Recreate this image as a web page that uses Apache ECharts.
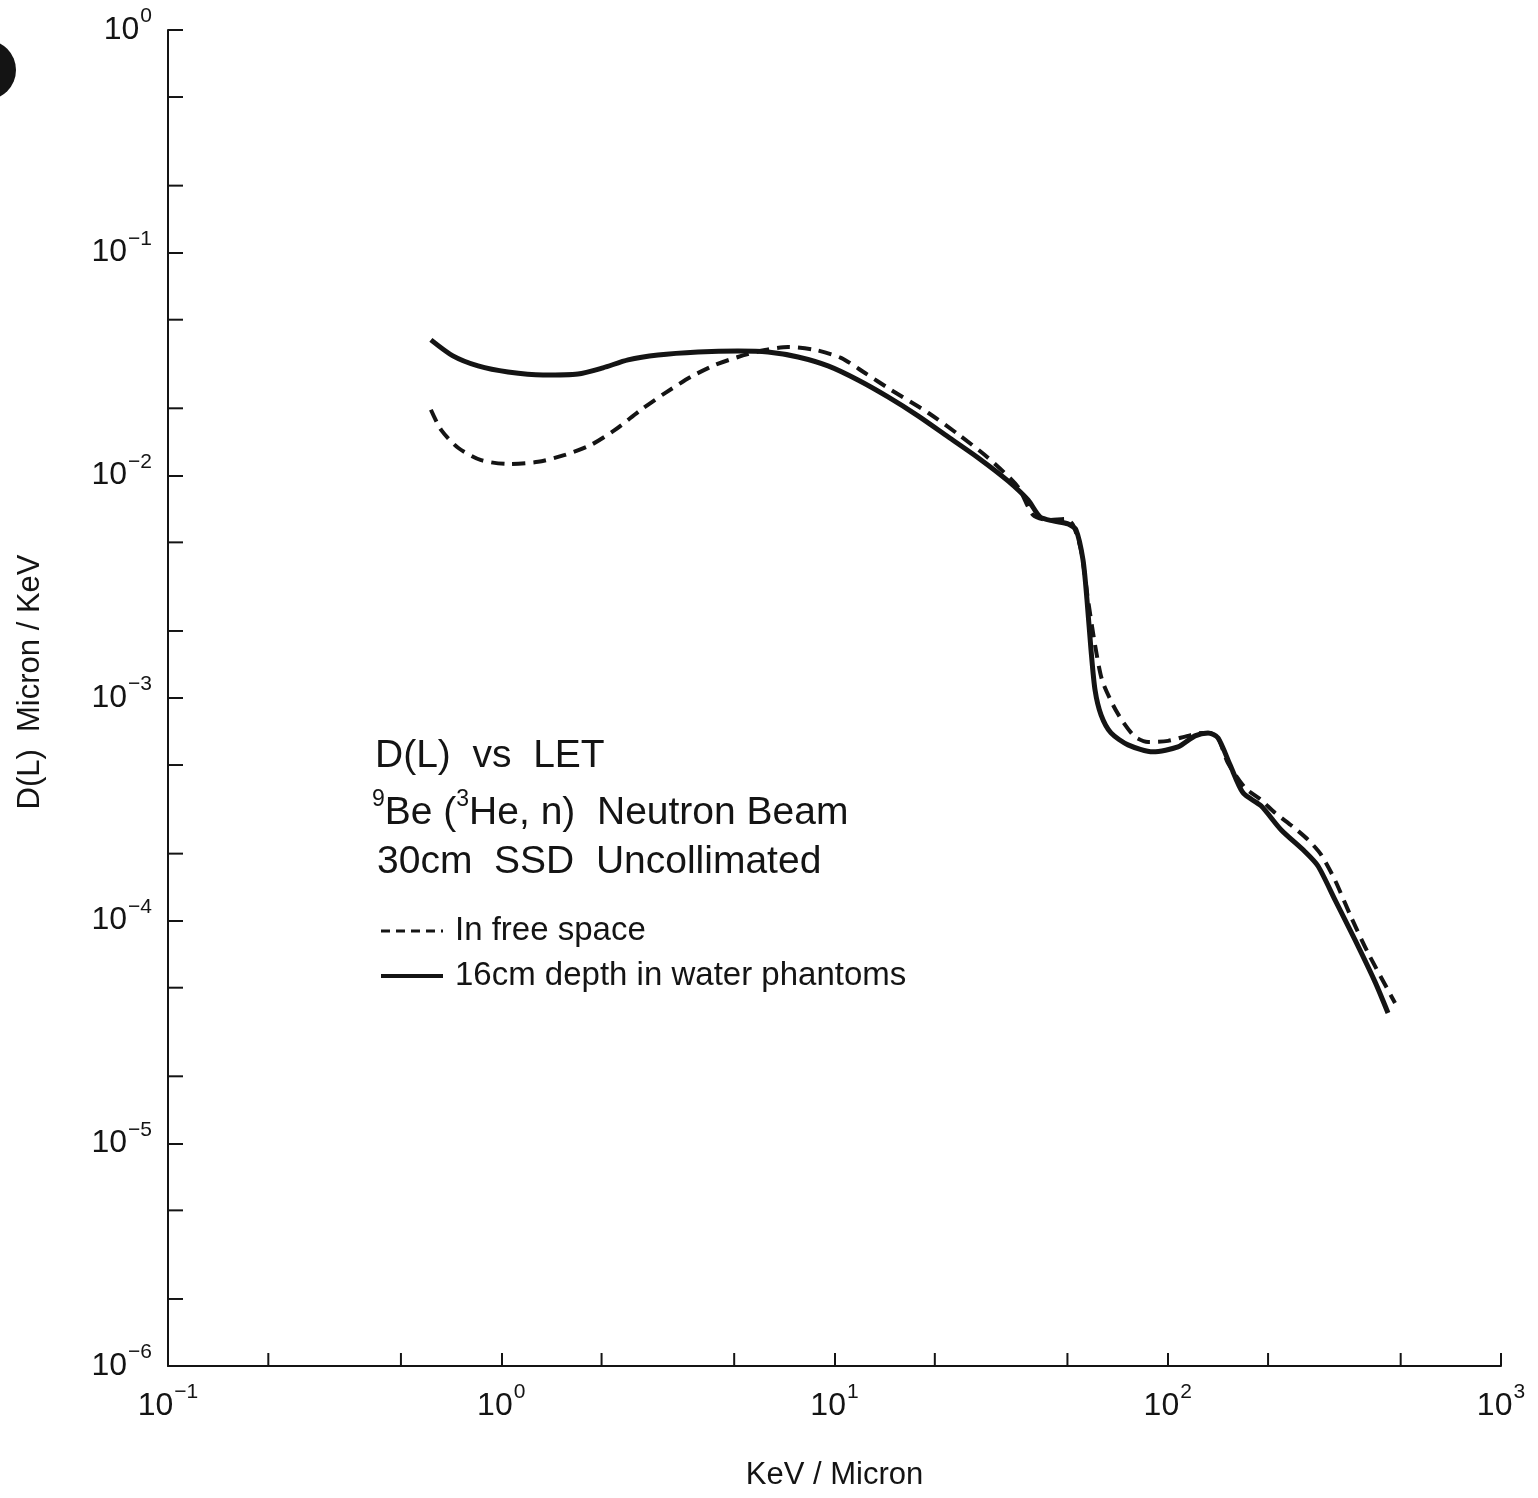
<!DOCTYPE html>
<html>
<head>
<meta charset="utf-8">
<title>D(L) vs LET</title>
<script src="https://cdn.jsdelivr.net/npm/echarts@6/dist/echarts.min.js"></script>
<style>
  html, body { margin: 0; padding: 0; background: #fff; }
  #chart { width: 1538px; height: 1498px; }
</style>
</head>
<body>
<div id="chart"></div>
<script>
// LET spectra, D(L) in micron/keV against LET in keV/micron
const freeSpaceLET = [0.615, 0.660, 0.742, 0.870, 1.048, 1.290, 1.553, 1.859, 2.194, 2.627,
  3.100, 3.710, 4.379, 5.134, 6.186, 7.253, 8.740, 10.46, 12.35, 14.77,
  19.09, 23.48, 28.88, 35.53, 39.41, 43.71, 49.52, 51.96, 54.92, 57.65,
  60.5, 63.5, 68.5, 73.4, 79.8, 87.3, 100.2, 115.0, 127.6, 138.7,
  151.6, 170.6, 190.5, 209.8, 237.6, 263.5, 288.4, 317.6, 354.8, 398.9, 480.9];
const freeSpaceDL = [0.0197, 0.0160, 0.0133, 0.0117, 0.01125, 0.0115, 0.01235, 0.0137, 0.0160, 0.0197,
  0.0234, 0.0277, 0.0313, 0.0340, 0.0366, 0.0377, 0.0366, 0.0337, 0.0288, 0.0242,
  0.0191, 0.0153, 0.0120, 0.00887, 0.00664, 0.00630, 0.00637, 0.00599, 0.00462, 0.002757,
  0.001731, 0.001206, 9.31e-4, 7.81e-4, 6.69e-4, 6.35e-4, 6.42e-4, 6.76e-4, 6.97e-4, 6.90e-4,
  5.11e-4, 3.95e-4, 3.49e-4, 3.05e-4, 2.64e-4, 2.31e-4, 1.98e-4, 1.52e-4, 1.04e-4, 7.17e-5, 4.27e-5];

const phantomLET = [0.615, 0.716, 0.852, 1.048, 1.335, 1.699, 2.020, 2.401, 2.953, 3.894,
  5.134, 6.316, 7.773, 9.561, 11.76, 14.47, 17.81, 21.91, 26.96, 33.16,
  38.08, 41.37, 45.27, 50.2, 53.05, 55.68, 57.24, 58.85, 60.5, 63.06,
  67.55, 75.99, 90.3, 107.3, 120.7, 132.1, 141.5, 153.8, 168.2, 190.5,
  218.7, 258.2, 282.4, 317.6, 364.7, 418.8, 458.1];
const phantomDL = [0.0406, 0.0344, 0.0310, 0.0291, 0.0282, 0.0285, 0.0304, 0.0330, 0.0347, 0.0358,
  0.0362, 0.0358, 0.0340, 0.0310, 0.0268, 0.0225, 0.0185, 0.0149, 0.0120, 0.00944,
  0.00775, 0.00651, 0.00624, 0.00605, 0.00569, 0.00417, 0.002757, 0.001644, 0.001087, 8.40e-4,
  6.97e-4, 6.16e-4, 5.73e-4, 6.03e-4, 6.76e-4, 6.97e-4, 6.62e-4, 5.01e-4, 3.75e-4, 3.28e-4,
  2.56e-4, 2.04e-4, 1.76e-4, 1.24e-4, 8.20e-5, 5.31e-5, 3.85e-5];

// intermediate tick positions (2 and 5 of each decade)
const xMinorTicks = [0.2, 0.5, 2, 5, 20, 50, 200, 500];
const yMinorTicks = [0.5, 0.2, 0.05, 0.02, 0.005, 0.002, 5e-4, 2e-4, 5e-5, 2e-5, 5e-6, 2e-6];

const xRange = [0.1, 1000];
const yRange = [1e-6, 1];

const INK = '#141414';
const FONT = '"Liberation Sans", Arial, sans-serif';

function powerLabel(v) {
  const e = Math.round(Math.log10(v));
  return '{b|10}{s|' + String(e).replace('-', '\u2212') + '}';
}
// a tall line box for the base digits lets the top-aligned exponent sit raised above them
const powerRich = {
  b: { fontSize: 32, fontFamily: FONT, color: INK, lineHeight: 48 },
  s: { fontSize: 21, fontFamily: FONT, color: INK, verticalAlign: 'top', lineHeight: 20, padding: [0, 0, 0, 1] }
};

function pairs(xs, ys) { return xs.map((x, i) => [x, ys[i]]); }

const chart = echarts.init(document.getElementById('chart'), null, { renderer: 'canvas' });

chart.setOption({
  backgroundColor: '#ffffff',
  animation: false,
  grid: { left: 168, right: 37, top: 30, bottom: 132 },
  xAxis: {
    type: 'log', logBase: 10, min: xRange[0], max: xRange[1], splitNumber: 4,
    name: 'KeV / Micron', nameLocation: 'middle', nameGap: 94,
    nameTextStyle: { fontSize: 31, fontFamily: FONT, color: INK },
    axisLine: { show: true, lineStyle: { color: INK, width: 2 } },
    axisTick: { show: true, inside: true, length: 13, lineStyle: { color: INK, width: 2 } },
    minorTick: { show: false },
    splitLine: { show: false },
    axisLabel: { margin: 16, formatter: powerLabel, rich: powerRich }
  },
  yAxis: {
    type: 'log', logBase: 10, min: yRange[0], max: yRange[1], splitNumber: 6,
    name: 'D(L)  Micron / KeV', nameLocation: 'middle', nameGap: 122, nameRotate: 90,
    nameTextStyle: { fontSize: 31, fontFamily: FONT, color: INK, padding: [0, 0, 0, 32] },
    axisLine: { show: true, lineStyle: { color: INK, width: 2 } },
    axisTick: { show: true, inside: true, length: 15, lineStyle: { color: INK, width: 2 } },
    minorTick: { show: false },
    splitLine: { show: false },
    axisLabel: { margin: 16, formatter: powerLabel, rich: powerRich }
  },
  series: [
    {
      name: 'In free space', type: 'line', data: pairs(freeSpaceLET, freeSpaceDL),
      showSymbol: false, smooth: 0.25,
      lineStyle: { color: INK, width: 4, type: [13, 8] }
    },
    {
      name: '16cm depth in water phantoms', type: 'line', data: pairs(phantomLET, phantomDL),
      showSymbol: false, smooth: 0.25,
      lineStyle: { color: INK, width: 5, type: 'solid' }
    },
    {
      // 2 and 5 ticks on the energy axis
      type: 'custom', silent: true, clip: false,
      data: xMinorTicks.map(v => [v, yRange[0]]),
      renderItem: (params, api) => {
        const p = api.coord([api.value(0), api.value(1)]);
        return { type: 'line', shape: { x1: p[0], y1: p[1], x2: p[0], y2: p[1] - 13 },
                 style: { stroke: INK, lineWidth: 2 } };
      }
    },
    {
      // 2 and 5 ticks on the D(L) axis
      type: 'custom', silent: true, clip: false,
      data: yMinorTicks.map(v => [xRange[0], v]),
      renderItem: (params, api) => {
        const p = api.coord([api.value(0), api.value(1)]);
        return { type: 'line', shape: { x1: p[0], y1: p[1], x2: p[0] + 15, y2: p[1] },
                 style: { stroke: INK, lineWidth: 2 } };
      }
    }
  ],
  graphic: [
    { type: 'circle', shape: { cx: -14, cy: 70, r: 30 }, style: { fill: INK } },
    {
      type: 'text', left: 375, top: 737,
      style: { text: 'D(L)  vs  LET', font: '39px ' + FONT, fill: INK }
    },
    {
      type: 'text', left: 372, top: 788,
      style: {
        text: '{s|9}{t|Be (}{s|3}{t|He, n)  Neutron Beam}',
        fill: INK,
        rich: {
          t: { fontSize: 39, fontFamily: FONT, fill: INK, lineHeight: 50 },
          s: { fontSize: 23, fontFamily: FONT, fill: INK, verticalAlign: 'top', lineHeight: 22 }
        }
      }
    },
    {
      type: 'text', left: 377, top: 843,
      style: { text: '30cm  SSD  Uncollimated', font: '39px ' + FONT, fill: INK }
    },
    { type: 'line', shape: { x1: 381, y1: 931, x2: 443, y2: 931 },
      style: { stroke: INK, lineWidth: 3, lineDash: [9, 6] } },
    {
      type: 'text', left: 455, top: 914,
      style: { text: 'In free space', font: '33px ' + FONT, fill: INK }
    },
    { type: 'line', shape: { x1: 381, y1: 976, x2: 443, y2: 976 },
      style: { stroke: INK, lineWidth: 4 } },
    {
      type: 'text', left: 455, top: 959,
      style: { text: '16cm depth in water phantoms', font: '33px ' + FONT, fill: INK }
    }
  ]
});
</script>
</body>
</html>
